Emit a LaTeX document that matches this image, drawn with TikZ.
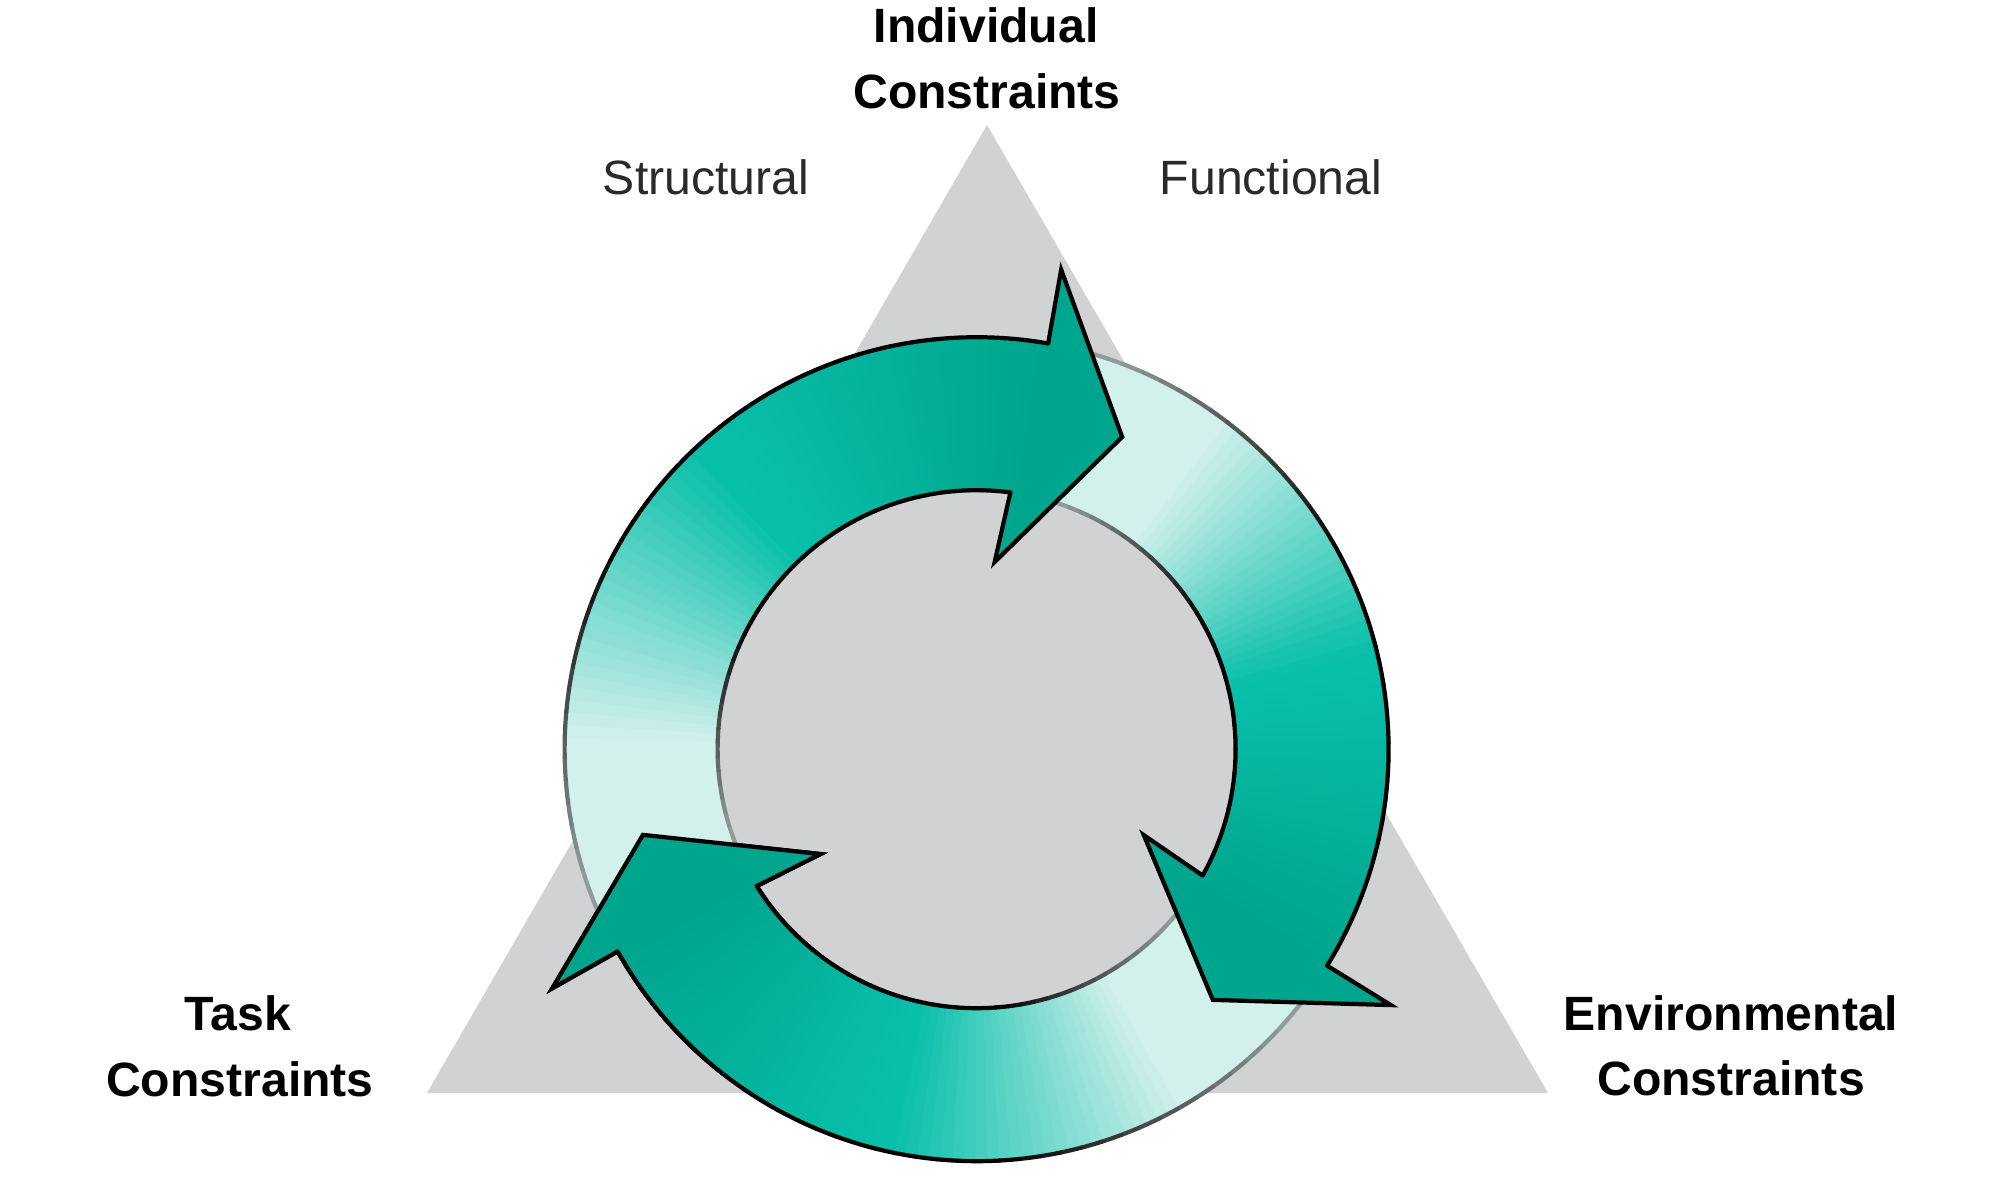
\documentclass[tikz,border=0pt]{standalone}
\usepackage{fontspec}
\setmainfont{Liberation Sans}
\definecolor{trigray}{HTML}{D1D2D4}
\definecolor{mintL}{HTML}{D2F0EC}
\definecolor{tealM}{HTML}{08BFAA}
\definecolor{tealD}{HTML}{00A58D}
\definecolor{lineL}{HTML}{A9B7B4}
\definecolor{labelgray}{HTML}{2A2A2A}
\tikzset{
  boldlabel/.style={font=\fontsize{13.7}{16}\selectfont\bfseries, anchor=base, inner sep=0pt, text=black},
  thinlabel/.style={font=\fontsize{13.7}{16}\selectfont, anchor=base, inner sep=0pt, text=labelgray},
  edgeline/.style={line width=1.2pt, line cap=round},
  headline/.style={line width=1.2pt, line join=miter, miter limit=6, line cap=butt, draw=black},
}
\def\Rout{4.12}
\def\Rin{2.59}
\def\Rtip{3.445}
\def\Rbarbo{4.87}
\def\Rbarbi{1.88}
\newcommand{\cyclearrow}[2]{%
  \pgfmathsetmacro{\Az}{#1}%
  \pgfmathsetmacro{\Tp}{#2}%
  \pgfmathsetmacro{\Ao}{#2+15}%
  \pgfmathsetmacro{\Ai}{#2+17.5}%
  \pgfmathsetmacro{\Bo}{#2+15}%
  \pgfmathsetmacro{\Bi}{#2+19.5}%
  \pgfmathsetmacro{\Span}{\Az-\Tp}%
  \begin{scope}
    \clip (\Az:\Rout) arc[start angle=\Az, end angle=\Ao, radius=\Rout]
      -- (\Bo:\Rbarbo) -- (\Tp:\Rtip) -- (\Bi:\Rbarbi) -- (\Ai:\Rin)
      arc[start angle=\Ai, end angle=\Az, radius=\Rin] -- cycle;
    \foreach \k in {0,...,79}{%
      \pgfmathsetmacro{\aa}{\Az-\k*\Span/80}%
      \pgfmathsetmacro{\ab}{\aa-\Span/80-0.4}%
      \pgfmathsetmacro{\ff}{min(1,max(0,(\Az-\aa+\Span/160)/(\Az-\Ao)))}%
      \pgfmathtruncatemacro{\pa}{min(100,max(0,(\ff-0.22)/0.36*100))}%
      \pgfmathtruncatemacro{\pb}{max(0,(\ff-0.6)/0.4*100)}%
      \fill[tealD!\pb!tealM!\pa!mintL] (0,0) -- (\aa+0.2:5.5) -- (\ab:5.5) -- cycle;
    }%
  \end{scope}
  \pgfmathsetmacro{\So}{(\Az-\Ao)/40}%
  \pgfmathsetmacro{\Si}{(\Az-\Ai)/40}%
  \foreach \k in {0,...,39}{%
    \pgfmathsetmacro{\aa}{\Az-\k*\So}%
    \pgfmathsetmacro{\ab}{\aa-\So}%
    \pgfmathsetmacro{\ac}{\Az-\k*\Si}%
    \pgfmathsetmacro{\ad}{\ac-\Si}%
    \pgfmathtruncatemacro{\pc}{min(100,max(15,(\k+0.5)/40/0.45*100))}%
    \draw[edgeline, draw=black!\pc!lineL] (\aa:\Rout) arc[start angle=\aa, end angle=\ab, radius=\Rout];
    \draw[edgeline, draw=black!\pc!lineL] (\ac:\Rin) arc[start angle=\ac, end angle=\ad, radius=\Rin];
  }%
  \draw[headline] (\Ao:\Rout) -- (\Bo:\Rbarbo) -- (\Tp:\Rtip) -- (\Bi:\Rbarbi) -- (\Ai:\Rin);
}
\begin{document}
\begin{tikzpicture}
  \useasboundingbox[fill=white] (0,0) rectangle (20,12);
  % triangle
  \coordinate (apex) at (9.87,10.75);
  \coordinate (bl) at (4.27,1.07);
  \coordinate (br) at (15.48,1.07);
  \fill[trigray] (apex) -- (bl) -- (br) -- cycle;
  % cycle of arrows
  \begin{scope}[shift={(9.766,4.508)}]
    \cyclearrow{325.3}{194.4}
    \cyclearrow{77}{-46.7}
    \cyclearrow{206.4}{65}
    \begin{scope}
      \clip (0,0) -- (232:6) arc[start angle=232, end angle=186, radius=6] -- cycle;
      \cyclearrow{325.3}{194.4}
    \end{scope}
  \end{scope}
  % labels
  \node[boldlabel] (indiv1) at (9.86,11.573) {Individual};
  \node[boldlabel] (indiv2) at (9.87,10.91) {Constraints};
  \node[thinlabel] (struct) at (7.06,10.05) {Structural};
  \node[thinlabel] (func) at (12.71,10.05) {Functional};
  \node[boldlabel] (task1) at (2.38,1.70) {Task};
  \node[boldlabel] (task2) at (2.40,1.04) {Constraints};
  \node[boldlabel] (env1) at (17.31,1.70) {Environmental};
  \node[boldlabel] (env2) at (17.31,1.05) {Constraints};
\end{tikzpicture}
\end{document}
